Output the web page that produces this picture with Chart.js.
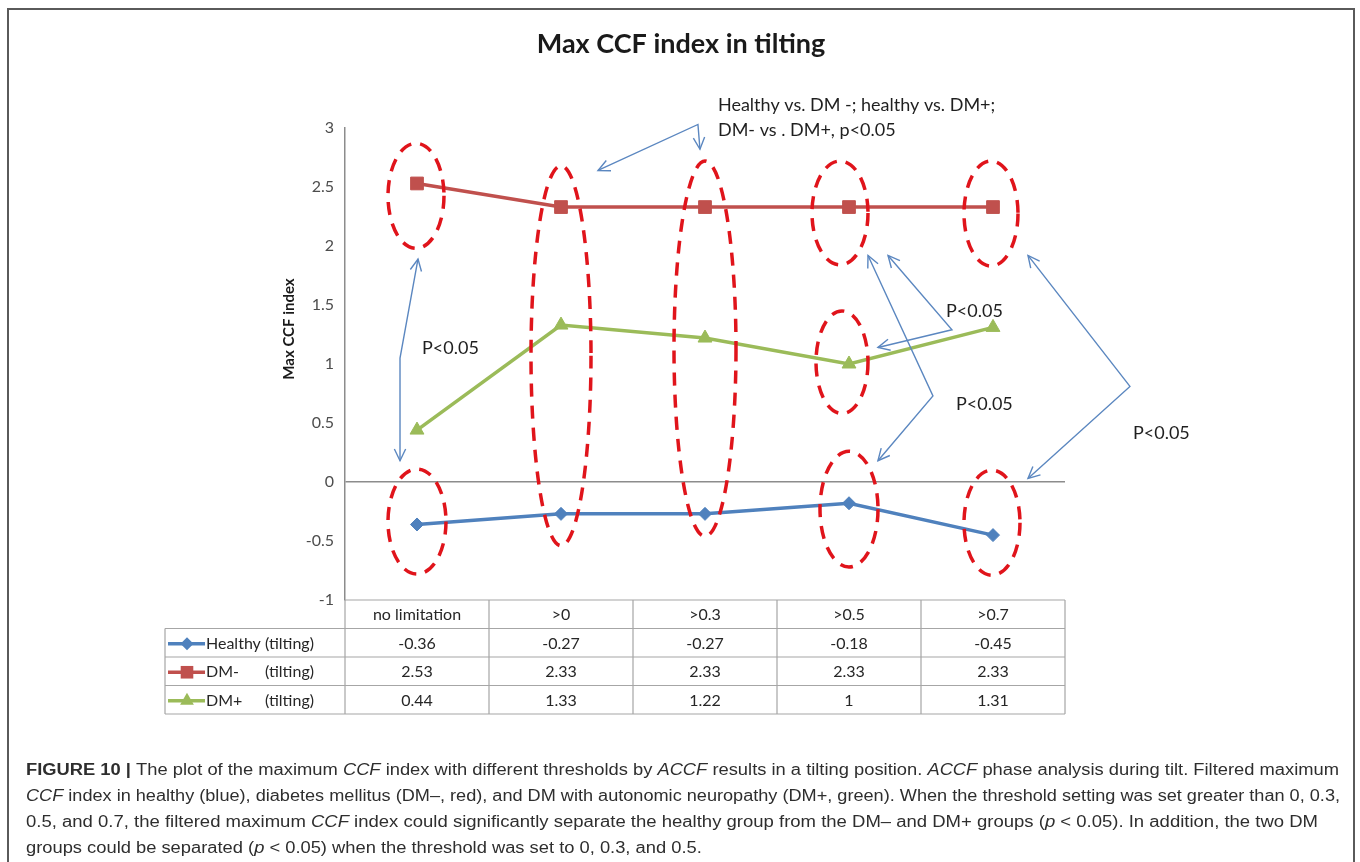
<!DOCTYPE html>
<html>
<head>
<meta charset="utf-8">
<script src="https://cdn.jsdelivr.net/npm/chart.js@4.4.1/dist/chart.umd.min.js"></script>
<style>
  html, body { margin: 0; padding: 0; background: #fff; overflow: hidden; }
  canvas { display: block; }
</style>
</head>
<body>
<canvas id="c" width="1360" height="862"></canvas>
<script>
// Threshold categories and the max CCF index of each group
const thresholds = ['no limitation', '>0', '>0.3', '>0.5', '>0.7'];
const healthy = [-0.36, -0.27, -0.27, -0.18, -0.45];
const dmMinus = [2.53, 2.33, 2.33, 2.33, 2.33];
const dmPlus = [0.44, 1.33, 1.22, 1, 1.31];
const groupNames = ['Healthy', 'DM-', 'DM+'];
const groupSuffix = '(tilting)';

const BLUE = '#4F81BD';
const RED = '#C0504D';
const GREEN = '#9BBB59';
const AXIS_GRAY = '#8c8c8c';
const RING_RED = '#e0141b';
const ARROW_BLUE = '#5b87c0';
const UI_FONT = 'Lato, "Open Sans", "Liberation Sans", sans-serif';

// Significance rings, placed in category / value units
const rings = [
  { cat: 0, top: 2.87, bottom: 1.98, halfWidth: 28, shift: -1 },
  { cat: 0, top: 0.11, bottom: -0.78, halfWidth: 29, shift: 0 },
  { cat: 1, top: 2.68, bottom: -0.54, halfWidth: 30, shift: 0 },
  { cat: 2, top: 2.72, bottom: -0.46, halfWidth: 31, shift: 0 },
  { cat: 3, top: 2.72, bottom: 1.84, halfWidth: 28, shift: -9 },
  { cat: 3, top: 1.45, bottom: 0.58, halfWidth: 26, shift: -7 },
  { cat: 3, top: 0.26, bottom: -0.72, halfWidth: 29, shift: 0 },
  { cat: 4, top: 2.72, bottom: 1.83, halfWidth: 27, shift: -2 },
  { cat: 4, top: 0.10, bottom: -0.79, halfWidth: 28, shift: -1 }
];

// Two-headed bent arrows: [head, bend, head] in category / value units
const arrows = [
  [[0.007, 1.89], [-0.118, 1.05], [-0.118, 0.18]],
  [[1.257, 2.64], [1.951, 3.03], [1.965, 2.82]],
  [[3.271, 1.92], [3.715, 1.29], [3.201, 1.14]],
  [[3.132, 1.92], [3.583, 0.73], [3.201, 0.18]],
  [[4.243, 1.92], [4.951, 0.81], [4.243, 0.03]]
];

const notes = [
  { text: 'Healthy vs. DM -; healthy vs. DM+;', x: 2.09, y: 3.19 },
  { text: 'DM- vs . DM+, p<0.05', x: 2.09, y: 2.985 },
  { text: 'P<0.05', x: 0.035, y: 1.13 },
  { text: 'P<0.05', x: 3.674, y: 1.45 },
  { text: 'P<0.05', x: 3.743, y: 0.66 },
  { text: 'P<0.05', x: 4.972, y: 0.415 }
];

const captionLines = [
  [['b', 'FIGURE 10 | '], ['r', 'The plot of the maximum '], ['i', 'CCF'], ['r', ' index with different thresholds by '], ['i', 'ACCF'], ['r', ' results in a tilting position. '], ['i', 'ACCF'], ['r', ' phase analysis during tilt. Filtered maximum']],
  [['i', 'CCF'], ['r', ' index in healthy (blue), diabetes mellitus (DM\u2013, red), and DM with autonomic neuropathy (DM+, green). When the threshold setting was set greater than 0, 0.3,']],
  [['r', '0.5, and 0.7, the filtered maximum '], ['i', 'CCF'], ['r', ' index could significantly separate the healthy group from the DM\u2013 and DM+ groups ('], ['i', 'p'], ['r', ' < 0.05). In addition, the two DM']],
  [['r', 'groups could be separated ('], ['i', 'p'], ['r', ' < 0.05) when the threshold was set to 0, 0.3, and 0.5.']]
];
// right ends of the full caption lines; the last line keeps the average squeeze
const captionEnds = [1339, 1340, 1318];

const markerStyles = ['rectRot', 'rect', 'triangle'];
const groupColors = [BLUE, RED, GREEN];
const groupValues = [healthy, dmMinus, dmPlus];

function drawMarker(ctx, style, x, y, color) {
  ctx.save();
  ctx.fillStyle = color;
  ctx.beginPath();
  if (style === 'rectRot') {
    ctx.moveTo(x, y - 6.5); ctx.lineTo(x + 6.5, y); ctx.lineTo(x, y + 6.5); ctx.lineTo(x - 6.5, y);
  } else if (style === 'rect') {
    ctx.rect(x - 6.3, y - 6.3, 12.6, 12.6);
  } else {
    ctx.moveTo(x, y - 8); ctx.lineTo(x + 6.9, y + 4); ctx.lineTo(x - 6.9, y + 4);
  }
  ctx.closePath();
  ctx.fill();
  ctx.restore();
}

function captionFont(style) {
  const fam = '"Liberation Sans", Arial, sans-serif';
  if (style === 'b') return 'bold 16px ' + fam;
  if (style === 'i') return 'italic 16px ' + fam;
  return '16px ' + fam;
}

function lineWidthOf(ctx, runs) {
  let w = 0;
  runs.forEach(([s, t]) => { ctx.font = captionFont(s); w += ctx.measureText(t).width; });
  return w;
}

// text squeezed horizontally when it is wider than the room it has
function fitText(ctx, text, x, y, maxW) {
  const w = ctx.measureText(text).width;
  if (w <= maxW) { ctx.fillText(text, x, y); return; }
  ctx.save();
  ctx.translate(x, y);
  ctx.scale(maxW / w, 1);
  ctx.fillText(text, 0, 0);
  ctx.restore();
}

const decor = {
  id: 'decor',
  beforeDraw(chart) {
    const ctx = chart.ctx;
    ctx.save();
    ctx.fillStyle = '#fff';
    ctx.fillRect(0, 0, chart.width, chart.height);

    // figure frame (open at the bottom edge of the page)
    ctx.strokeStyle = '#5a5a5a';
    ctx.lineWidth = 2;
    ctx.beginPath();
    ctx.moveTo(8, chart.height + 5);
    ctx.lineTo(8, 9);
    ctx.lineTo(1354, 9);
    ctx.lineTo(1354, chart.height + 5);
    ctx.stroke();

    // chart title
    ctx.fillStyle = '#1a1a1a';
    ctx.font = 'bold 27px ' + UI_FONT;
    ctx.textAlign = 'center';
    ctx.textBaseline = 'middle';
    ctx.fillText('Max CCF index in tilting', 681, 44);

    // y axis title
    ctx.save();
    ctx.translate(289, 329);
    ctx.rotate(-Math.PI / 2);
    ctx.font = 'bold 15px ' + UI_FONT;
    ctx.fillStyle = '#1a1a1a';
    ctx.fillText('Max CCF index', 0, 0);
    ctx.restore();

    // caption
    ctx.textAlign = 'left';
    ctx.fillStyle = '#2e2e2e';
    const scales = captionEnds.map((end, i) => (end - 26) / lineWidthOf(ctx, captionLines[i]));
    const avgScale = scales.reduce((a, b) => a + b, 0) / scales.length;
    captionLines.forEach((runs, i) => {
      const sx = i < scales.length ? scales[i] : avgScale;
      ctx.save();
      ctx.translate(26, 771 + i * 26);
      ctx.scale(sx, 1);
      let x = 0;
      runs.forEach(([s, t]) => {
        ctx.font = captionFont(s);
        ctx.fillText(t, x, 0);
        x += ctx.measureText(t).width;
      });
      ctx.restore();
    });
    ctx.restore();
  },
  afterDatasetsDraw(chart) {
    const ctx = chart.ctx;
    const xs = chart.scales.x;
    const ys = chart.scales.y;
    const area = chart.chartArea;
    const px = v => xs.getPixelForValue(v);
    const py = v => ys.getPixelForValue(v);

    ctx.save();
    // dashed significance rings
    ctx.strokeStyle = RING_RED;
    ctx.lineWidth = 3.5;
    ctx.setLineDash([13, 9]);
    rings.forEach(r => {
      const t = py(r.top), b = py(r.bottom);
      ctx.beginPath();
      ctx.ellipse(px(r.cat) + r.shift, (t + b) / 2, r.halfWidth, (b - t) / 2, 0, 0, Math.PI * 2);
      ctx.stroke();
    });
    ctx.setLineDash([]);

    // bent two-headed arrows
    ctx.strokeStyle = ARROW_BLUE;
    ctx.lineWidth = 1.4;
    const head = (from, to) => {
      const a = Math.atan2(to[1] - from[1], to[0] - from[0]);
      const L = 13, w = 0.45;
      ctx.beginPath();
      ctx.moveTo(to[0] - L * Math.cos(a - w), to[1] - L * Math.sin(a - w));
      ctx.lineTo(to[0], to[1]);
      ctx.lineTo(to[0] - L * Math.cos(a + w), to[1] - L * Math.sin(a + w));
      ctx.stroke();
    };
    arrows.forEach(path => {
      const p = path.map(([cx, cy]) => [px(cx), py(cy)]);
      ctx.beginPath();
      ctx.moveTo(p[0][0], p[0][1]);
      for (let i = 1; i < p.length; i++) ctx.lineTo(p[i][0], p[i][1]);
      ctx.stroke();
      head(p[1], p[0]);
      head(p[p.length - 2], p[p.length - 1]);
    });

    // annotation texts
    ctx.fillStyle = '#1f1f1f';
    ctx.font = '18px ' + UI_FONT;
    ctx.textAlign = 'left';
    ctx.textBaseline = 'middle';
    notes.forEach(n => ctx.fillText(n.text, px(n.x), py(n.y)));

    // data table under the plot
    const half = (px(1) - px(0)) / 2;
    const edges = thresholds.map((_, i) => px(i) - half);
    edges.push(px(thresholds.length - 1) + half);
    const rowH = 28.5;
    const top = area.bottom;
    const left = 165;
    ctx.strokeStyle = '#a6a6a6';
    ctx.lineWidth = 1.2;
    ctx.beginPath();
    ctx.moveTo(edges[0], top); ctx.lineTo(edges[edges.length - 1], top);
    for (let r = 1; r <= 4; r++) {
      ctx.moveTo(left, top + r * rowH); ctx.lineTo(edges[edges.length - 1], top + r * rowH);
    }
    edges.forEach(x => { ctx.moveTo(x, top); ctx.lineTo(x, top + 4 * rowH); });
    ctx.moveTo(left, top + rowH); ctx.lineTo(left, top + 4 * rowH);
    ctx.stroke();

    ctx.font = '16px ' + UI_FONT;
    ctx.fillStyle = '#262626';
    ctx.textAlign = 'center';
    thresholds.forEach((t, i) => ctx.fillText(t, px(i), top + rowH / 2 + 1));
    const labelLeft = 206, labelRight = 314;
    groupValues.forEach((vals, g) => {
      const cy = top + (g + 1.5) * rowH + 1;
      vals.forEach((v, i) => ctx.fillText(String(v), px(i), cy));
      // legend key
      ctx.strokeStyle = groupColors[g];
      ctx.lineWidth = 3.5;
      ctx.beginPath();
      ctx.moveTo(168, cy); ctx.lineTo(205, cy);
      ctx.stroke();
      drawMarker(ctx, markerStyles[g], 187, cy, groupColors[g]);
      ctx.fillStyle = '#262626';
      ctx.textAlign = 'left';
      const nameW = ctx.measureText(groupNames[g] + ' ').width;
      const sufW = ctx.measureText(groupSuffix).width;
      if (labelLeft + nameW + sufW > labelRight - 12) {
        fitText(ctx, groupNames[g] + ' ' + groupSuffix, labelLeft, cy, labelRight - labelLeft);
      } else {
        ctx.fillText(groupNames[g], labelLeft, cy);
        ctx.textAlign = 'right';
        ctx.fillText(groupSuffix, labelRight, cy);
      }
      ctx.textAlign = 'center';
    });
    ctx.restore();
  }
};

const series = (label, data, color, style, radius) => ({
  label, data,
  borderColor: color,
  backgroundColor: color,
  pointBackgroundColor: color,
  pointBorderColor: color,
  pointStyle: style,
  pointRadius: radius,
  pointBorderWidth: 1,
  borderWidth: 3.5,
  tension: 0,
  fill: false
});

new Chart(document.getElementById('c').getContext('2d'), {
  type: 'line',
  data: {
    labels: thresholds,
    datasets: [
      series('Healthy (tilting)', healthy, BLUE, 'rectRot', 6.5),
      series('DM- (tilting)', dmMinus, RED, 'rect', 9),
      series('DM+ (tilting)', dmPlus, GREEN, 'triangle', 8)
    ]
  },
  options: {
    responsive: false,
    animation: false,
    devicePixelRatio: 1,
    layout: { padding: { left: 0, right: 295, top: 128, bottom: 262 } },
    plugins: {
      legend: { display: false },
      tooltip: { enabled: false },
      title: { display: false }
    },
    scales: {
      x: {
        offset: true,
        grid: { display: false, drawTicks: false },
        border: { display: false },
        ticks: { display: false },
        afterFit: s => { s.height = 0; }
      },
      y: {
        min: -1,
        max: 3,
        ticks: {
          stepSize: 0.5,
          padding: 11,
          color: '#4d4d4d',
          font: { family: UI_FONT, size: 16 },
          callback: v => String(v)
        },
        grid: {
          drawTicks: false,
          lineWidth: 1.5,
          color: c => (c.tick && c.tick.value === 0 ? AXIS_GRAY : 'rgba(0,0,0,0)')
        },
        border: { color: AXIS_GRAY, width: 1.5 },
        afterFit: s => { s.width = 345; }
      }
    }
  },
  plugins: [decor]
});
</script>
</body>
</html>
